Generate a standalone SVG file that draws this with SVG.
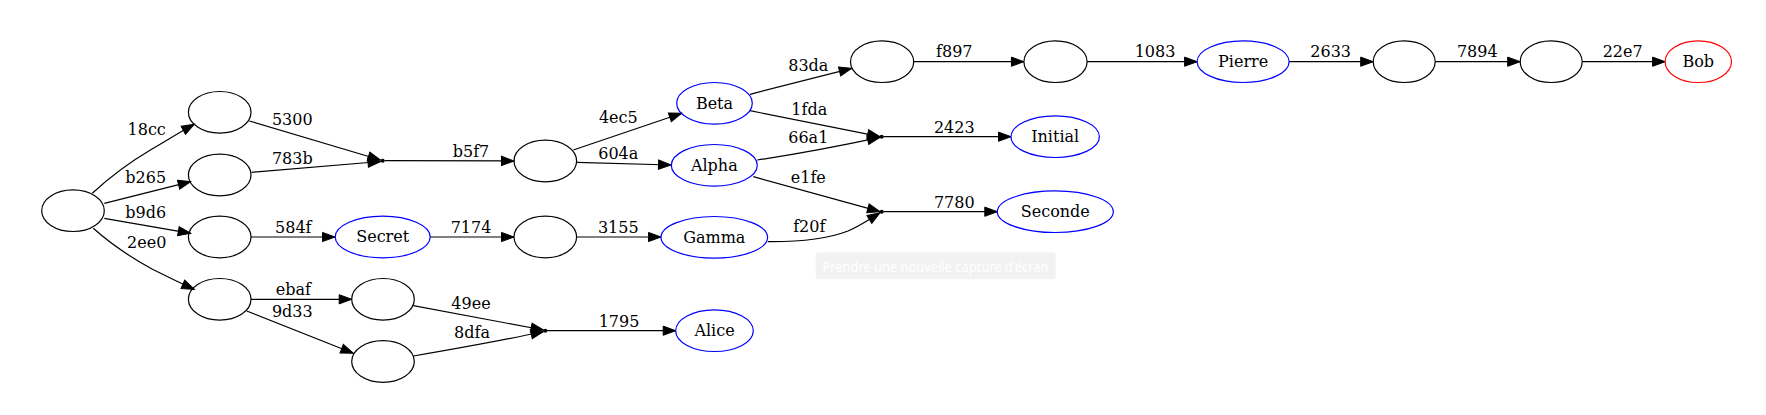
<svg xmlns="http://www.w3.org/2000/svg" width="1766" height="415" viewBox="0 0 1766 415">
<style>
.n ellipse{fill:none;stroke:#000;stroke-width:1.2}
.b ellipse{stroke:#0000ff}
.r ellipse{stroke:#ff0000}
text{font-family:"DejaVu Serif","Liberation Serif",serif;font-size:16px;fill:#000;text-anchor:middle}
.e path{fill:none;stroke:#000;stroke-width:1.2;marker-end:url(#ah)}
.j{fill:#000}
</style>
<defs>
<marker id="ah" markerUnits="userSpaceOnUse" markerWidth="16" markerHeight="12" viewBox="0 -6 14 12" refX="12.5" refY="0" orient="auto">
<path d="M0,-4.6 L12.5,0 L0,4.6 z" fill="#000" stroke="#000" stroke-width="1"/>
</marker>
</defs>
<rect width="1766" height="415" fill="#fff"/>
<g id="edges" class="e">
<path d="M92.3,193.3 C112,175 130,162 152,149 C166,141 180,132 194.3,124.3"/>
<path d="M104.3,203.3 L190.7,181.7"/>
<path d="M104.3,218.3 L190.7,233.3"/>
<path d="M93.3,228.3 C112,245 130,257 152,269 C166,276 180,283 194.3,289.3"/>
<path d="M249.3,121 L380.5,160"/>
<path d="M251.7,172.3 L380.5,161.5"/>
<path d="M384.5,160.7 L514,160.9"/>
<path d="M251,237 L335,237"/>
<path d="M430,237 L514,237"/>
<path d="M577,237 L661,237"/>
<path d="M251,299.3 L351.7,299.3"/>
<path d="M246.7,311 L353.3,353.3"/>
<path d="M413.3,305.7 L543.5,330"/>
<path d="M413.3,356 C460,348 500,341 543.5,331.5"/>
<path d="M547,330.7 L675.7,330.7"/>
<path d="M573.3,150 L681.7,113.3"/>
<path d="M576.7,162.3 L671,165"/>
<path d="M750,94.3 L851.7,68.3"/>
<path d="M750,110.7 L880,136.7"/>
<path d="M757.3,160 C790,155 830,148 880,137.3"/>
<path d="M753.3,176.7 L880,211.7"/>
<path d="M767.7,241.7 C805,242 830,238 848,231 C860,226 870,219 880,212.8"/>
<path d="M883.5,136.7 L1011,136.7"/>
<path d="M883.5,211.7 L997.3,211.7"/>
<path d="M913.7,61.7 L1023.9,61.7"/>
<path d="M1087.1,61.7 L1197.1,61.7"/>
<path d="M1289.1,61.7 L1373.2,61.7"/>
<path d="M1435.2,61.7 L1520.2,61.7"/>
<path d="M1582.2,61.7 L1665.1,61.7"/>
<circle class="j" cx="382.7" cy="160.7" r="2"/>
<circle class="j" cx="545.3" cy="330.7" r="2"/>
<circle class="j" cx="881.7" cy="136.7" r="2"/>
<circle class="j" cx="881.7" cy="211.7" r="2"/>
</g>
<g id="edge-labels">
<text x="146.7" y="135">18cc</text>
<text x="145.7" y="182.7">b265</text>
<text x="145.7" y="217.7">b9d6</text>
<text x="146.7" y="248.3">2ee0</text>
<text x="292.3" y="125">5300</text>
<text x="292.3" y="164.3">783b</text>
<text x="293.3" y="232.7">584f</text>
<text x="293.3" y="295">ebaf</text>
<text x="292.3" y="316.7">9d33</text>
<text x="471" y="156.7">b5f7</text>
<text x="471" y="232.7">7174</text>
<text x="471" y="309">49ee</text>
<text x="472" y="337.7">8dfa</text>
<text x="618.3" y="122.7">4ec5</text>
<text x="618.3" y="159">604a</text>
<text x="618.3" y="232.7">3155</text>
<text x="619" y="326.7">1795</text>
<text x="808.3" y="71">83da</text>
<text x="809.3" y="115">1fda</text>
<text x="808.3" y="143.3">66a1</text>
<text x="808.3" y="182.7">e1fe</text>
<text x="809.3" y="231.7">f20f</text>
<text x="954.3" y="57.3">f897</text>
<text x="954.3" y="132.7">2423</text>
<text x="954.3" y="207.7">7780</text>
<text x="1155" y="57.3">1083</text>
<text x="1330.7" y="57.3">2633</text>
<text x="1477.3" y="57.3">7894</text>
<text x="1622.7" y="57.3">22e7</text>
</g>
<g id="root" class="n"><ellipse cx="73" cy="210.7" rx="31.3" ry="20.8"/></g>
<g id="a1" class="n"><ellipse cx="219.7" cy="112.3" rx="31.3" ry="20.8"/></g>
<g id="a2" class="n"><ellipse cx="219.7" cy="175" rx="31.3" ry="20.8"/></g>
<g id="a3" class="n"><ellipse cx="219.7" cy="237" rx="31.3" ry="20.8"/></g>
<g id="a4" class="n"><ellipse cx="219.7" cy="299.3" rx="31.3" ry="20.8"/></g>
<g id="secret" class="n b"><ellipse cx="382.7" cy="237" rx="47.5" ry="20.8"/><text x="382.7" y="242.3">Secret</text></g>
<g id="e1" class="n"><ellipse cx="383" cy="299.3" rx="31.3" ry="20.8"/></g>
<g id="f1" class="n"><ellipse cx="383" cy="361.5" rx="31.3" ry="20.8"/></g>
<g id="n1" class="n"><ellipse cx="545.3" cy="161" rx="31.3" ry="20.8"/></g>
<g id="n2" class="n"><ellipse cx="545.3" cy="237" rx="31.3" ry="20.8"/></g>
<g id="beta" class="n b"><ellipse cx="714.5" cy="103.3" rx="37.8" ry="20.8"/><text x="714.5" y="108.6">Beta</text></g>
<g id="alpha" class="n b"><ellipse cx="714.3" cy="165.3" rx="43" ry="20.8"/><text x="714.3" y="170.6">Alpha</text></g>
<g id="gamma" class="n b"><ellipse cx="714.3" cy="237.3" rx="53.3" ry="20.8"/><text x="714.3" y="242.6">Gamma</text></g>
<g id="alice" class="n b"><ellipse cx="714.5" cy="330.7" rx="38.8" ry="20.8"/><text x="714.5" y="336">Alice</text></g>
<g id="t1" class="n"><ellipse cx="882.1" cy="61.7" rx="31.6" ry="20.8"/></g>
<g id="t2" class="n"><ellipse cx="1055.5" cy="61.7" rx="31.6" ry="20.8"/></g>
<g id="initial" class="n b"><ellipse cx="1055.2" cy="136.7" rx="44.2" ry="20.8"/><text x="1055.2" y="142">Initial</text></g>
<g id="seconde" class="n b"><ellipse cx="1055.3" cy="211.7" rx="58" ry="20.8"/><text x="1055.3" y="217">Seconde</text></g>
<g id="pierre" class="n b"><ellipse cx="1243.1" cy="61.7" rx="46" ry="20.8"/><text x="1243.1" y="67">Pierre</text></g>
<g id="t3" class="n"><ellipse cx="1404.2" cy="61.7" rx="31" ry="20.8"/></g>
<g id="t4" class="n"><ellipse cx="1551.2" cy="61.7" rx="31" ry="20.8"/></g>
<g id="bob" class="n r"><ellipse cx="1698.3" cy="61.7" rx="33.2" ry="20.8"/><text x="1698.3" y="67">Bob</text></g>
<g id="tooltip">
<rect x="815.7" y="252.3" width="240" height="27" rx="3" fill="#f2f2f2"/>
<text x="935.5" y="271.5" style="font-family:'Noto Sans','Open Sans',sans-serif;font-size:15px;fill:#ffffff" textLength="226" lengthAdjust="spacingAndGlyphs">Prendre une nouvelle capture d'écran</text>
</g>
</svg>
